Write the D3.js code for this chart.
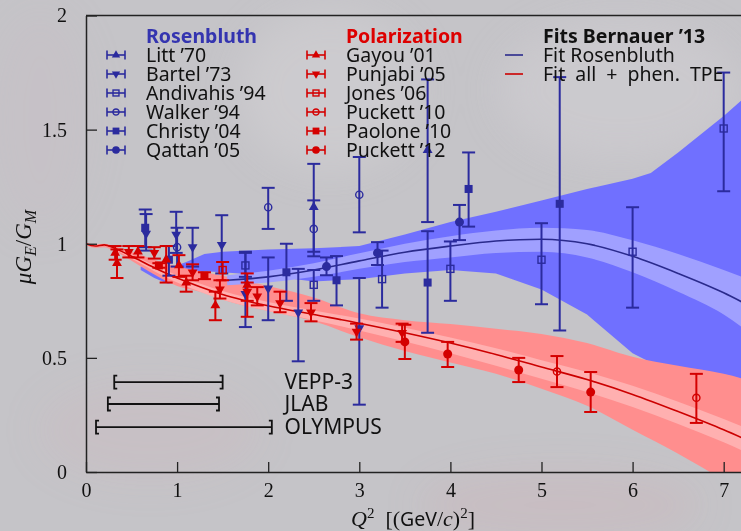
<!DOCTYPE html>
<html>
<head>
<meta charset="utf-8">
<script src="https://cdn.jsdelivr.net/npm/d3@7"></script>
<style>
  html, body { margin: 0; padding: 0; background: #c5c4c8; }
  svg { display: block; }
</style>
</head>
<body>
<svg id="chart" width="741" height="531"></svg>
<script>
// ---- fit bands (Bernauer '13) ----
var blueBandQ2 = [0.6, 0.75, 0.9, 1.1, 1.3, 1.5, 2.0, 2.5, 3.0, 3.5, 4.0, 4.5, 5.0, 5.5, 6.0, 6.2, 6.5, 7.0, 7.2];
var blueOuterHi = [0.90, 0.89, 0.89, 0.92, 0.955, 0.965, 0.975, 0.98, 0.99, 1.04, 1.095, 1.14, 1.19, 1.24, 1.285, 1.31, 1.40, 1.56, 1.63];
var blueOuterLo = [0.885, 0.85, 0.825, 0.84, 0.88, 0.875, 0.86, 0.835, 0.845, 0.87, 0.885, 0.87, 0.80, 0.69, 0.52, 0.48, 0.44, 0.41, 0.40];

var blueFitQ2 = [1.55, 2.0, 2.5, 3.0, 3.5, 4.0, 4.5, 5.0, 5.5, 6.0, 6.5, 7.0, 7.2];
var blueFit = [0.84, 0.855, 0.885, 0.925, 0.963, 0.99, 1.012, 1.02, 1.0, 0.945, 0.87, 0.785, 0.745];
var blueInnerHi = [0.862, 0.882, 0.915, 0.958, 1.0, 1.033, 1.058, 1.07, 1.06, 1.015, 0.955, 0.885, 0.855];
var blueInnerLo = [0.818, 0.83, 0.855, 0.89, 0.92, 0.94, 0.96, 0.965, 0.94, 0.875, 0.79, 0.69, 0.635];

var redQ2 = [0, 0.1, 0.2, 0.3, 0.5, 0.75, 1.0, 1.25, 1.5, 2.0, 2.5, 3.0, 3.5, 4.0, 4.5, 5.0, 5.5, 6.0, 6.5, 7.0, 7.2];
var redFit = [1.0, 0.99, 0.995, 0.983, 0.945, 0.895, 0.85, 0.812, 0.778, 0.728, 0.69, 0.652, 0.61, 0.565, 0.515, 0.46, 0.405, 0.34, 0.265, 0.185, 0.15];
var redOuterHi = [1.005, 0.997, 1.0, 0.99, 0.965, 0.93, 0.9, 0.88, 0.86, 0.815, 0.765, 0.695, 0.665, 0.648, 0.628, 0.605, 0.565, 0.505, 0.465, 0.43, 0.41];
var redOuterLo = [0.995, 0.983, 0.985, 0.97, 0.925, 0.865, 0.815, 0.79, 0.755, 0.705, 0.66, 0.59, 0.53, 0.48, 0.43, 0.365, 0.29, 0.185, 0.08, -0.04, -0.1];
var redInnerHi = [1.0, 0.993, 0.998, 0.987, 0.952, 0.905, 0.862, 0.826, 0.793, 0.745, 0.708, 0.672, 0.632, 0.589, 0.542, 0.49, 0.438, 0.378, 0.308, 0.232, 0.2];
var redInnerLo = [1.0, 0.987, 0.99, 0.977, 0.935, 0.88, 0.83, 0.79, 0.755, 0.705, 0.665, 0.62, 0.572, 0.52, 0.465, 0.408, 0.35, 0.285, 0.21, 0.13, 0.095];

// ---- data points: [Q2, value, bar low, bar high] ----
var litt70 = [[2.5, 1.16, 0.965, 1.35], [3.75, 1.41, 1.095, 1.72]];
var bartel73 = [[0.66, 1.045, 0.97, 1.13], [0.99, 1.04, 0.96, 1.14], [1.17, 0.985, 0.9, 1.07], [1.49, 0.995, 0.87, 1.125],
  [1.75, 0.78, 0.635, 0.96], [2.0, 0.805, 0.665, 0.94], [2.33, 0.70, 0.485, 0.89], [3.0, 0.63, 0.295, 0.85]];
var andivahis94 = [[1.75, 0.905, 0.855, 0.965], [2.5, 0.82, 0.75, 0.885], [3.25, 0.845, 0.72, 0.97], [4.0, 0.89, 0.75, 1.01],
  [5.0, 0.93, 0.735, 1.09], [6.0, 0.965, 0.72, 1.16], [7.0, 1.505, 1.23, 1.75]];
var walker94 = [[1.0, 0.985, 0.9, 1.07], [2.0, 1.16, 1.065, 1.245], [2.5, 1.065, 0.945, 1.19], [3.0, 1.215, 1.05, 1.38]];
var christy04 = [[0.65, 1.07, 0.985, 1.15], [0.91, 0.93, 0.86, 0.99], [2.2, 0.875, 0.75, 1.0], [2.75, 0.84, 0.73, 0.946],
  [3.75, 0.83, 0.61, 1.055], [4.2, 1.24, 1.075, 1.40], [5.2, 1.175, 0.62, 1.73]];
var qattan05 = [[2.64, 0.9, 0.862, 0.94], [3.2, 0.96, 0.907, 1.007], [4.1, 1.095, 1.016, 1.17]];

var gayou01 = [[0.32, 0.96, 0.93, 0.99], [0.34, 0.915, 0.85, 0.975], [0.57, 0.965, 0.94, 0.99], [0.88, 0.93, 0.83, 0.99],
  [1.02, 0.905, 0.855, 0.95], [1.1, 0.83, 0.79, 0.86], [1.42, 0.73, 0.665, 0.79], [1.77, 0.82, 0.68, 0.87]];
var punjabi05 = [[0.47, 0.965, 0.94, 0.99], [0.75, 0.96, 0.935, 0.985], [1.17, 0.875, 0.84, 0.91], [1.47, 0.80, 0.76, 0.84],
  [1.77, 0.79, 0.75, 0.83], [1.88, 0.77, 0.73, 0.81], [2.13, 0.74, 0.70, 0.79], [2.47, 0.70, 0.66, 0.74],
  [2.97, 0.615, 0.58, 0.65], [3.47, 0.61, 0.57, 0.65]];
var jones06 = [[1.5, 0.885, 0.84, 0.92]];
var puckett10 = [[5.17, 0.44, 0.372, 0.508], [6.7, 0.325, 0.215, 0.43]];
var paolone10 = [[0.8, 0.905, 0.895, 0.915], [1.3, 0.86, 0.845, 0.875]];
var puckett12 = [[3.5, 0.57, 0.495, 0.645], [3.97, 0.517, 0.46, 0.57], [4.75, 0.447, 0.394, 0.50], [5.54, 0.35, 0.263, 0.438]];

var rosenNames = ["Litt \u201970", "Bartel \u201973", "Andivahis \u201994", "Walker \u201994", "Christy \u201904", "Qattan \u201905"];
var polNames = ["Gayou \u201901", "Punjabi \u201905", "Jones \u201906", "Puckett \u201910", "Paolone \u201910", "Puckett \u201912"];
var symbolKinds = ["triUp", "triDown", "squareOpen", "circleOpen", "square", "circle"];
var fitNames = ["Fit Rosenbluth", "Fit all + phen. TPE"];

// kinematic coverage of experiments
var rangeNames = ["VEPP-3", "JLAB", "OLYMPUS"];
var rangeLo = [0.31, 0.24, 0.11];
var rangeHi = [1.50, 1.46, 2.04];
var rangeY = [0.394, 0.298, 0.197];

var xTicks = [0, 1, 2, 3, 4, 5, 6, 7];
var yTicks = [0, 0.5, 1, 1.5, 2];

var blueDark = "#2b2b9e", redDark = "#d40000";

var svg = d3.select('#chart');
var width = 741, height = 531;

var xScale = d3.scaleLinear().domain([0, 7.19]).range([86, 741]);
var yScale = d3.scaleLinear().domain([0, 2]).range([472, 15.5]);

// background with faint texture
var defs = svg.append('defs');
defs.append('filter').attr('id', 'blur').append('feGaussianBlur').attr('stdDeviation', 18);
defs.append('clipPath').attr('id', 'plotclip').append('rect')
	.attr('x', 86).attr('y', 15.5).attr('width', 741 - 86).attr('height', 472 - 15.5);

svg.append('rect').attr('width', width).attr('height', height).attr('fill', '#c5c4c8');
var tex = svg.append('g').attr('filter', 'url(#blur)');
tex.append('ellipse').attr('cx', 150).attr('cy', 430).attr('rx', 110).attr('ry', 50).attr('fill', '#d4b0b8').attr('opacity', 0.18);
tex.append('ellipse').attr('cx', 560).attr('cy', 505).attr('rx', 140).attr('ry', 35).attr('fill', '#d0a4ac').attr('opacity', 0.2);
tex.append('ellipse').attr('cx', 330).attr('cy', 90).attr('rx', 90).attr('ry', 80).attr('fill', '#d4d2d6').attr('opacity', 0.5);
tex.append('ellipse').attr('cx', 620).attr('cy', 90).attr('rx', 120).attr('ry', 70).attr('fill', '#d2d0d4').attr('opacity', 0.5);
tex.append('ellipse').attr('cx', 40).attr('cy', 120).attr('rx', 50).attr('ry', 110).attr('fill', '#cdb8c4').attr('opacity', 0.2);

function zip(q, lo, hi) {
	return q.map(function (d, i) { return [d, lo[i], hi[i]]; });
}

var band = d3.area()
	.x(function (d) { return xScale(d[0]); })
	.y0(function (d) { return yScale(d[1]); })
	.y1(function (d) { return yScale(d[2]); });
var smoothBand = d3.area()
	.curve(d3.curveMonotoneX)
	.x(function (d) { return xScale(d[0]); })
	.y0(function (d) { return yScale(d[1]); })
	.y1(function (d) { return yScale(d[2]); });
var fitLine = d3.line()
	.curve(d3.curveMonotoneX)
	.x(function (d) { return xScale(d[0]); })
	.y(function (d) { return yScale(d[1]); });

var plot = svg.append('g').attr('clip-path', 'url(#plotclip)');

plot.append('path').attr('d', band(zip(blueBandQ2, blueOuterLo, blueOuterHi))).attr('fill', '#7070ff');
plot.append('path').attr('d', smoothBand(zip(redQ2, redOuterLo, redOuterHi))).attr('fill', '#ff8e8e');
plot.append('path').attr('d', smoothBand(zip(blueFitQ2, blueInnerLo, blueInnerHi))).attr('fill', '#a0a0ff');
plot.append('path').attr('d', smoothBand(zip(redQ2, redInnerLo, redInnerHi))).attr('fill', '#ffb0b0');

plot.append('path').attr('d', fitLine(blueFitQ2.map(function (d, i) { return [d, blueFit[i]]; })))
	.attr('fill', 'none').attr('stroke', '#2a2a8c').attr('stroke-width', 1.6);
plot.append('path').attr('d', fitLine(redQ2.map(function (d, i) { return [d, redFit[i]]; })))
	.attr('fill', 'none').attr('stroke', '#cc0000').attr('stroke-width', 1.6);

// markers
function marker(g, kind, color, scale) {
	var s = scale || 1;
	if (kind === 'triUp' || kind === 'triDown') {
		g.append('path').attr('d', d3.symbol().type(d3.symbolTriangle).size(42 * s * s)())
			.attr('transform', kind === 'triDown' ? 'rotate(180)' : null)
			.attr('fill', color);
	} else if (kind === 'square') {
		g.append('rect').attr('x', -4 * s).attr('y', -4 * s).attr('width', 8 * s).attr('height', 8 * s).attr('fill', color);
	} else if (kind === 'squareOpen') {
		g.append('rect').attr('x', -3.5 * s).attr('y', -3.5 * s).attr('width', 7 * s).attr('height', 7 * s)
			.attr('fill', 'none').attr('stroke', color).attr('stroke-width', 1.4);
	} else if (kind === 'circle') {
		g.append('circle').attr('r', 4.5 * s).attr('fill', color);
	} else if (kind === 'circleOpen') {
		g.append('circle').attr('r', 3.6 * s).attr('fill', 'none').attr('stroke', color).attr('stroke-width', 1.4);
	}
}

function drawSet(data, kind, color) {
	var groups = svg.append('g').selectAll('g')
		.data(data).enter().append('g')
		.attr('transform', function (d) { return 'translate(' + xScale(d[0]) + ',0)'; });
	groups.append('line')
		.attr('y1', function (d) { return yScale(d[2]); })
		.attr('y2', function (d) { return yScale(d[3]); })
		.attr('stroke', color).attr('stroke-width', 2);
	groups.each(function (d) {
		var g = d3.select(this);
		[d[2], d[3]].forEach(function (v) {
			g.append('line').attr('x1', -6.5).attr('x2', 6.5)
				.attr('y1', yScale(v)).attr('y2', yScale(v))
				.attr('stroke', color).attr('stroke-width', 2);
		});
		var m = g.append('g').attr('transform', 'translate(0,' + yScale(d[1]) + ')');
		marker(m, kind, color);
	});
}

var blueSets = [litt70, bartel73, andivahis94, walker94, christy04, qattan05];
var redSets = [gayou01, punjabi05, jones06, puckett10, paolone10, puckett12];
blueSets.forEach(function (s, i) { drawSet(s, symbolKinds[i], blueDark); });
redSets.forEach(function (s, i) { drawSet(s, symbolKinds[i], redDark); });

// axes
var yAxis = d3.axisLeft(yScale).tickValues(yTicks).tickSize(-11).tickSizeOuter(0).tickPadding(19)
	.tickFormat(function (d) { return String(d); });
var xAxis = d3.axisBottom(xScale).tickValues(xTicks).tickSize(-10).tickSizeOuter(0).tickPadding(11)
	.tickFormat(function (d) { return String(d); });

var gy = svg.append('g').attr('transform', 'translate(86,0)').call(yAxis);
var gx = svg.append('g').attr('transform', 'translate(0,472)').call(xAxis);
[gx, gy].forEach(function (g) {
	g.select('.domain').attr('stroke', '#222').attr('stroke-width', 1.5);
	g.selectAll('.tick line').attr('stroke', '#222').attr('stroke-width', 1.3);
	g.selectAll('.tick text').attr('fill', '#111')
		.style('font-family', '"Liberation Serif", "DejaVu Serif", serif').style('font-size', '20px');
});
svg.append('line').attr('x1', 86).attr('x2', 741).attr('y1', 15.5).attr('y2', 15.5)
	.attr('stroke', '#222').attr('stroke-width', 1.5);

// axis titles
var serif = '"Liberation Serif", "DejaVu Serif", serif';
var sans = '"Noto Sans", "DejaVu Sans", sans-serif';
var xt = svg.append('text').attr('x', 413).attr('y', 526).attr('text-anchor', 'middle')
	.style('font-family', serif).style('font-size', '22px').attr('fill', '#111');
xt.append('tspan').style('font-style', 'italic').text('Q');
xt.append('tspan').attr('dy', -8).style('font-size', '15px').text('2');
xt.append('tspan').attr('dy', 8).text('\u2002[(');
xt.append('tspan').style('font-family', sans).style('font-size', '19.5px').text('GeV');
xt.append('tspan').text('/');
xt.append('tspan').style('font-style', 'italic').text('c');
xt.append('tspan').text(')');
xt.append('tspan').attr('dy', -8).style('font-size', '15px').text('2');
xt.append('tspan').attr('dy', 8).text(']');

var yt = svg.append('text').attr('transform', 'translate(31,247) rotate(-90)').attr('text-anchor', 'middle')
	.style('font-family', serif).style('font-size', '23px').style('font-style', 'italic').attr('fill', '#111');
yt.append('tspan').text('\u03bcG');
yt.append('tspan').attr('dy', 5).style('font-size', '16px').text('E');
yt.append('tspan').attr('dy', -5).style('font-style', 'normal').text('/');
yt.append('tspan').text('G');
yt.append('tspan').attr('dy', 5).style('font-size', '16px').text('M');

// legend
var legendFont = '19.5px';
var rowStep = 19;
function legendColumn(x, header, headColor, names, color) {
	svg.append('text').attr('x', x + 30).attr('y', 43).text(header)
		.style('font-family', sans).style('font-weight', 'bold').style('font-size', legendFont).attr('fill', headColor);
	names.forEach(function (n, i) {
		var y = 55 + i * rowStep;
		var g = svg.append('g').attr('transform', 'translate(' + x + ',' + y + ')');
		g.append('line').attr('x1', -9).attr('x2', 9).attr('stroke', color).attr('stroke-width', 1.6);
		[-9, 9].forEach(function (cx) {
			g.append('line').attr('x1', cx).attr('x2', cx).attr('y1', -4.5).attr('y2', 4.5)
				.attr('stroke', color).attr('stroke-width', 1.6);
		});
		marker(g, symbolKinds[i], color, 0.85);
		svg.append('text').attr('x', x + 30).attr('y', y + 7).text(n)
			.style('font-family', sans).style('font-size', legendFont).attr('fill', '#111');
	});
}
legendColumn(116, 'Rosenbluth', '#3434b0', rosenNames, blueDark);
legendColumn(316, 'Polarization', '#dd0000', polNames, redDark);

svg.append('text').attr('x', 543).attr('y', 43).text('Fits Bernauer \u201913')
	.style('font-family', sans).style('font-weight', 'bold').style('font-size', legendFont).attr('fill', '#111');
var fitColors = ['#2a2a8c', '#cc0000'];
fitNames.forEach(function (n, i) {
	var y = 55 + i * rowStep;
	svg.append('line').attr('x1', 505).attr('x2', 523).attr('y1', y).attr('y2', y)
		.attr('stroke', fitColors[i]).attr('stroke-width', 1.6);
	svg.append('text').attr('x', 543).attr('y', y + 7).text(n)
		.style('word-spacing', i === 1 ? '5px' : null)
		.style('font-family', sans).style('font-size', legendFont).attr('fill', '#111');
});

// experiment coverage brackets
rangeNames.forEach(function (n, i) {
	var y = yScale(rangeY[i]);
	var x0 = xScale(rangeLo[i]), x1 = xScale(rangeHi[i]);
	var g = svg.append('g').attr('stroke', '#111').attr('stroke-width', 1.8).attr('fill', 'none');
	g.append('line').attr('x1', x0).attr('x2', x1).attr('y1', y).attr('y2', y);
	g.append('path').attr('d', 'M' + (x0 + 3) + ',' + (y - 6.5) + 'H' + x0 + 'V' + (y + 6.5) + 'H' + (x0 + 3));
	g.append('path').attr('d', 'M' + (x1 - 3) + ',' + (y - 6.5) + 'H' + x1 + 'V' + (y + 6.5) + 'H' + (x1 - 3));
	svg.append('text').attr('x', xScale(2.18)).attr('y', y + 7).text(n)
		.style('font-family', sans).style('font-size', '21px').attr('fill', '#111');
});
</script>
</body>
</html>
